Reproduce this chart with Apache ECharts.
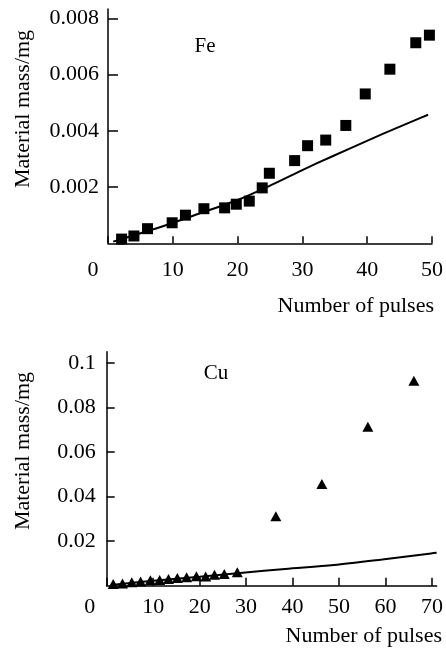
<!DOCTYPE html>
<html>
<head>
<meta charset="utf-8">
<script src="https://cdn.jsdelivr.net/npm/echarts@6/dist/echarts.min.js"></script>
<style>
  html, body { margin: 0; padding: 0; background: #fff; }
  #chart { width: 446px; height: 650px; }
</style>
</head>
<body>
<div id="chart"></div>
<script>
// Fe: measured points (squares) and model curve
const feX = [2.1, 4.0, 6.1, 9.9, 11.95, 14.8, 18.0, 19.8, 21.8, 23.8, 24.9, 28.8, 30.8, 33.6, 36.7, 39.7, 43.5, 47.5, 49.6];
const feY = [0.00015, 0.00026, 0.00052, 0.00073, 0.001, 0.00123, 0.00126, 0.00139, 0.0015, 0.00197, 0.00249, 0.00294, 0.00347, 0.00367, 0.00419, 0.00531, 0.00619, 0.00713, 0.0074];
const feLineX = [0.8, 8, 14, 20, 25, 29.5, 32.1, 37.2, 42.4, 47.5, 49.4];
const feLineY = [0.00006, 0.00057, 0.00105, 0.00154, 0.00205, 0.00255, 0.00283, 0.00336, 0.00389, 0.00439, 0.00457];

// Cu: measured points (triangles) and model curve
const cuX = [1.4, 3.4, 5.4, 7.3, 9.4, 11.4, 13.3, 15.2, 17.2, 19.3, 21.3, 23.2, 25.3, 28.1, 36.4, 46.3, 56.2, 66.1];
const cuY = [0.0008, 0.001, 0.0015, 0.0019, 0.0024, 0.0026, 0.003, 0.0034, 0.0038, 0.0042, 0.0041, 0.0049, 0.0053, 0.006, 0.0312, 0.0456, 0.0713, 0.092];
const cuLineX = [1, 10, 20, 29.3, 38.4, 48.9, 59.3, 69.8, 71];
const cuLineY = [0.0003, 0.0022, 0.004, 0.0058, 0.0075, 0.0093, 0.0118, 0.0145, 0.0148];

// tick labels
const feXTicks = [0, 10, 20, 30, 40, 50];
const feYTicks = [0.002, 0.004, 0.006, 0.008];
const cuXTicks = [0, 10, 20, 30, 40, 50, 60, 70];
const cuYTicks = [0.02, 0.04, 0.06, 0.08, 0.1];

const FONT = 'Liberation Serif';
const zip = (xs, ys) => xs.map((x, i) => [x, ys[i]]);

function xAxisOf(grid, max, ticks, tickLen, margin, shift) {
    return {
        type: 'value', gridIndex: grid, min: 0, max: max,
        axisLine: { show: true, onZero: false, lineStyle: { color: '#000', width: 1.5 } },
        axisTick: { show: true, inside: true, length: tickLen, customValues: ticks, lineStyle: { color: '#000', width: 1.5 } },
        axisLabel: {
            customValues: ticks, margin: margin, color: '#000', fontSize: 22, fontFamily: FONT,
            formatter: v => v === 0 ? '{o|0}' : String(v),
            rich: { o: { fontSize: 22, fontFamily: FONT, color: '#000', padding: [0, shift, 0, 0] } }
        },
        splitLine: { show: false }
    };
}

function yAxisOf(grid, max, ticks, tickLen, margin) {
    return {
        type: 'value', gridIndex: grid, min: 0, max: max,
        axisLine: { show: true, onZero: false, lineStyle: { color: '#000', width: 1.5 } },
        axisTick: { show: true, inside: true, length: tickLen, customValues: ticks, lineStyle: { color: '#000', width: 1.5 } },
        axisLabel: {
            customValues: ticks, margin: margin, color: '#000', fontSize: 22, fontFamily: FONT,
            formatter: v => String(v)
        },
        splitLine: { show: false }
    };
}

let myChart = echarts.init(document.getElementById('chart'), null, { renderer: 'canvas' });
let option = {
    animation: false,
    backgroundColor: '#fff',
    grid: [
        { left: 108, right: 13, top: 9, bottom: 406.7 },
        { left: 106.7, right: 0, top: 351.7, bottom: 64.3 }
    ],
    xAxis: [
        xAxisOf(0, 50, feXTicks, 7, 16, 30),
        xAxisOf(1, 71, cuXTicks, 8, 11, 34)
    ],
    yAxis: [
        yAxisOf(0, 0.00833, feYTicks, 10, 9),
        yAxisOf(1, 0.105, cuYTicks, 8, 11)
    ],
    graphic: [
        { type: 'text', x: 205, y: 46.5, style: { text: 'Fe', fontSize: 21, fontFamily: FONT, fill: '#000', textAlign: 'center', textVerticalAlign: 'middle' } },
        { type: 'text', x: 216, y: 373, style: { text: 'Cu', fontSize: 21, fontFamily: FONT, fill: '#000', textAlign: 'center', textVerticalAlign: 'middle' } },
        { type: 'text', x: 434, y: 306, style: { text: 'Number of pulses', fontSize: 22, fontFamily: FONT, fill: '#000', textAlign: 'right', textVerticalAlign: 'middle' } },
        { type: 'text', x: 442, y: 636.5, style: { text: 'Number of pulses', fontSize: 22, fontFamily: FONT, fill: '#000', textAlign: 'right', textVerticalAlign: 'middle' } },
        { type: 'text', x: 23, y: 109, rotation: Math.PI / 2, style: { text: 'Material mass/mg', fontSize: 22, fontFamily: FONT, fill: '#000', textAlign: 'center', textVerticalAlign: 'middle' } },
        { type: 'text', x: 23, y: 451, rotation: Math.PI / 2, style: { text: 'Material mass/mg', fontSize: 22, fontFamily: FONT, fill: '#000', textAlign: 'center', textVerticalAlign: 'middle' } }
    ],
    series: [
        {
            type: 'line', xAxisIndex: 0, yAxisIndex: 0, data: zip(feLineX, feLineY),
            smooth: 0.3, symbol: 'none', lineStyle: { color: '#000', width: 2 }, z: 2
        },
        {
            type: 'scatter', xAxisIndex: 0, yAxisIndex: 0, data: zip(feX, feY),
            symbol: 'rect', symbolSize: 11, itemStyle: { color: '#000', opacity: 1 }, z: 3
        },
        {
            type: 'line', xAxisIndex: 1, yAxisIndex: 1, data: zip(cuLineX, cuLineY),
            smooth: 0.3, symbol: 'none', lineStyle: { color: '#000', width: 2 }, z: 2
        },
        {
            type: 'scatter', xAxisIndex: 1, yAxisIndex: 1, data: zip(cuX, cuY),
            symbol: 'triangle', symbolSize: [11, 10], itemStyle: { color: '#000', opacity: 1 }, z: 3
        }
    ]
};
myChart.setOption(option);
window.addEventListener('resize', function () {
    myChart.resize();
});
</script>
</body>
</html>
